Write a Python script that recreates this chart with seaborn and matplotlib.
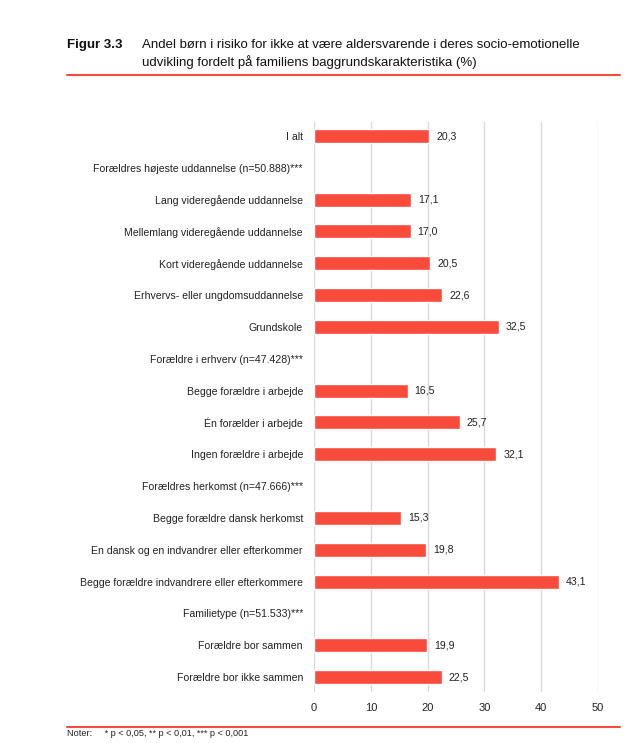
import matplotlib
matplotlib.use('Agg')
import matplotlib.pyplot as plt
import seaborn as sns
import numpy as np
import pandas as pd

# Data
categories = [
    'I alt',
    'Forældres højeste uddannelse (n=50.888)***',
    'Lang videregående uddannelse',
    'Mellemlang videregående uddannelse',
    'Kort videregående uddannelse',
    'Erhvervs- eller ungdomsuddannelse',
    'Grundskole',
    'Forældre i erhverv (n=47.428)***',
    'Begge forældre i arbejde',
    'Én forælder i arbejde',
    'Ingen forældre i arbejde',
    'Forældres herkomst (n=47.666)***',
    'Begge forældre dansk herkomst',
    'En dansk og en indvandrer eller efterkommer',
    'Begge forældre indvandrere eller efterkommere',
    'Familietype (n=51.533)***',
    'Forældre bor sammen',
    'Forældre bor ikke sammen',
]
values = [20.3, np.nan, 17.1, 17.0, 20.5, 22.6, 32.5, np.nan, 16.5, 25.7, 32.1,
          np.nan, 15.3, 19.8, 43.1, np.nan, 19.9, 22.5]
xticks = [0, 10, 20, 30, 40, 50]

title_num = 'Figur 3.3'
title_text = ('Andel børn i risiko for ikke at være aldersvarende i deres socio-emotionelle\n'
              'udvikling fordelt på familiens baggrundskarakteristika (%)')
note = 'Noter:     * p < 0,05, ** p < 0,01, *** p < 0,001'

red = '#F84B3C'

sns.set_style('white')
plt.rcParams['font.family'] = ['Liberation Sans', 'DejaVu Sans']

df = pd.DataFrame({'cat': categories, 'val': values})

fig = plt.figure(figsize=(6.43, 7.43), dpi=100)
ax = fig.add_axes([314 / 643, 1 - 692 / 743, 284 / 643, 570 / 743])

sns.barplot(data=df, x='val', y='cat', orient='h', color=red, width=0.44,
            saturation=1, ax=ax, zorder=3)

ax.set_xlim(0, 50)
ax.set_ylim(17.47, -0.44)
ax.set_xticks(xticks)
ax.set_xticklabels([str(t) for t in xticks], fontsize=8, color='#222222')
ax.xaxis.grid(True, color='#D9D9D9', linewidth=1, zorder=0)
ax.yaxis.grid(False)
for s in ax.spines.values():
    s.set_visible(False)
ax.tick_params(axis='both', length=0)
ax.tick_params(axis='x', pad=8)
ax.tick_params(axis='y', pad=8)
ax.set_yticklabels(categories, fontsize=7.6, color='#222222')
ax.set_xlabel('')
ax.set_ylabel('')

# value labels
for i, v in enumerate(values):
    if not np.isnan(v):
        ax.text(v + 1.2, i, f'{v:.1f}'.replace('.', ','), va='center', ha='left',
                fontsize=7.6, color='#222222')

# title block
fig.text(67 / 643, 1 - 45 / 743, title_num, fontsize=9.5, fontweight='bold',
         va='center', ha='left', color='#111111')
fig.text(142 / 643, 1 - 54 / 743, title_text, fontsize=9.5, va='center', ha='left',
         color='#111111', linespacing=1.45)
fig.add_artist(plt.Line2D([67 / 643, 620 / 643], [1 - 75 / 743, 1 - 75 / 743],
                          color=red, linewidth=1.5))
fig.add_artist(plt.Line2D([67 / 643, 620 / 643], [1 - 727 / 743, 1 - 727 / 743],
                          color=red, linewidth=1.5))
fig.text(67 / 643, 1 - 734 / 743, note, fontsize=6.6, va='center', ha='left',
         color='#222222')

plt.savefig('out.png', dpi=100)
